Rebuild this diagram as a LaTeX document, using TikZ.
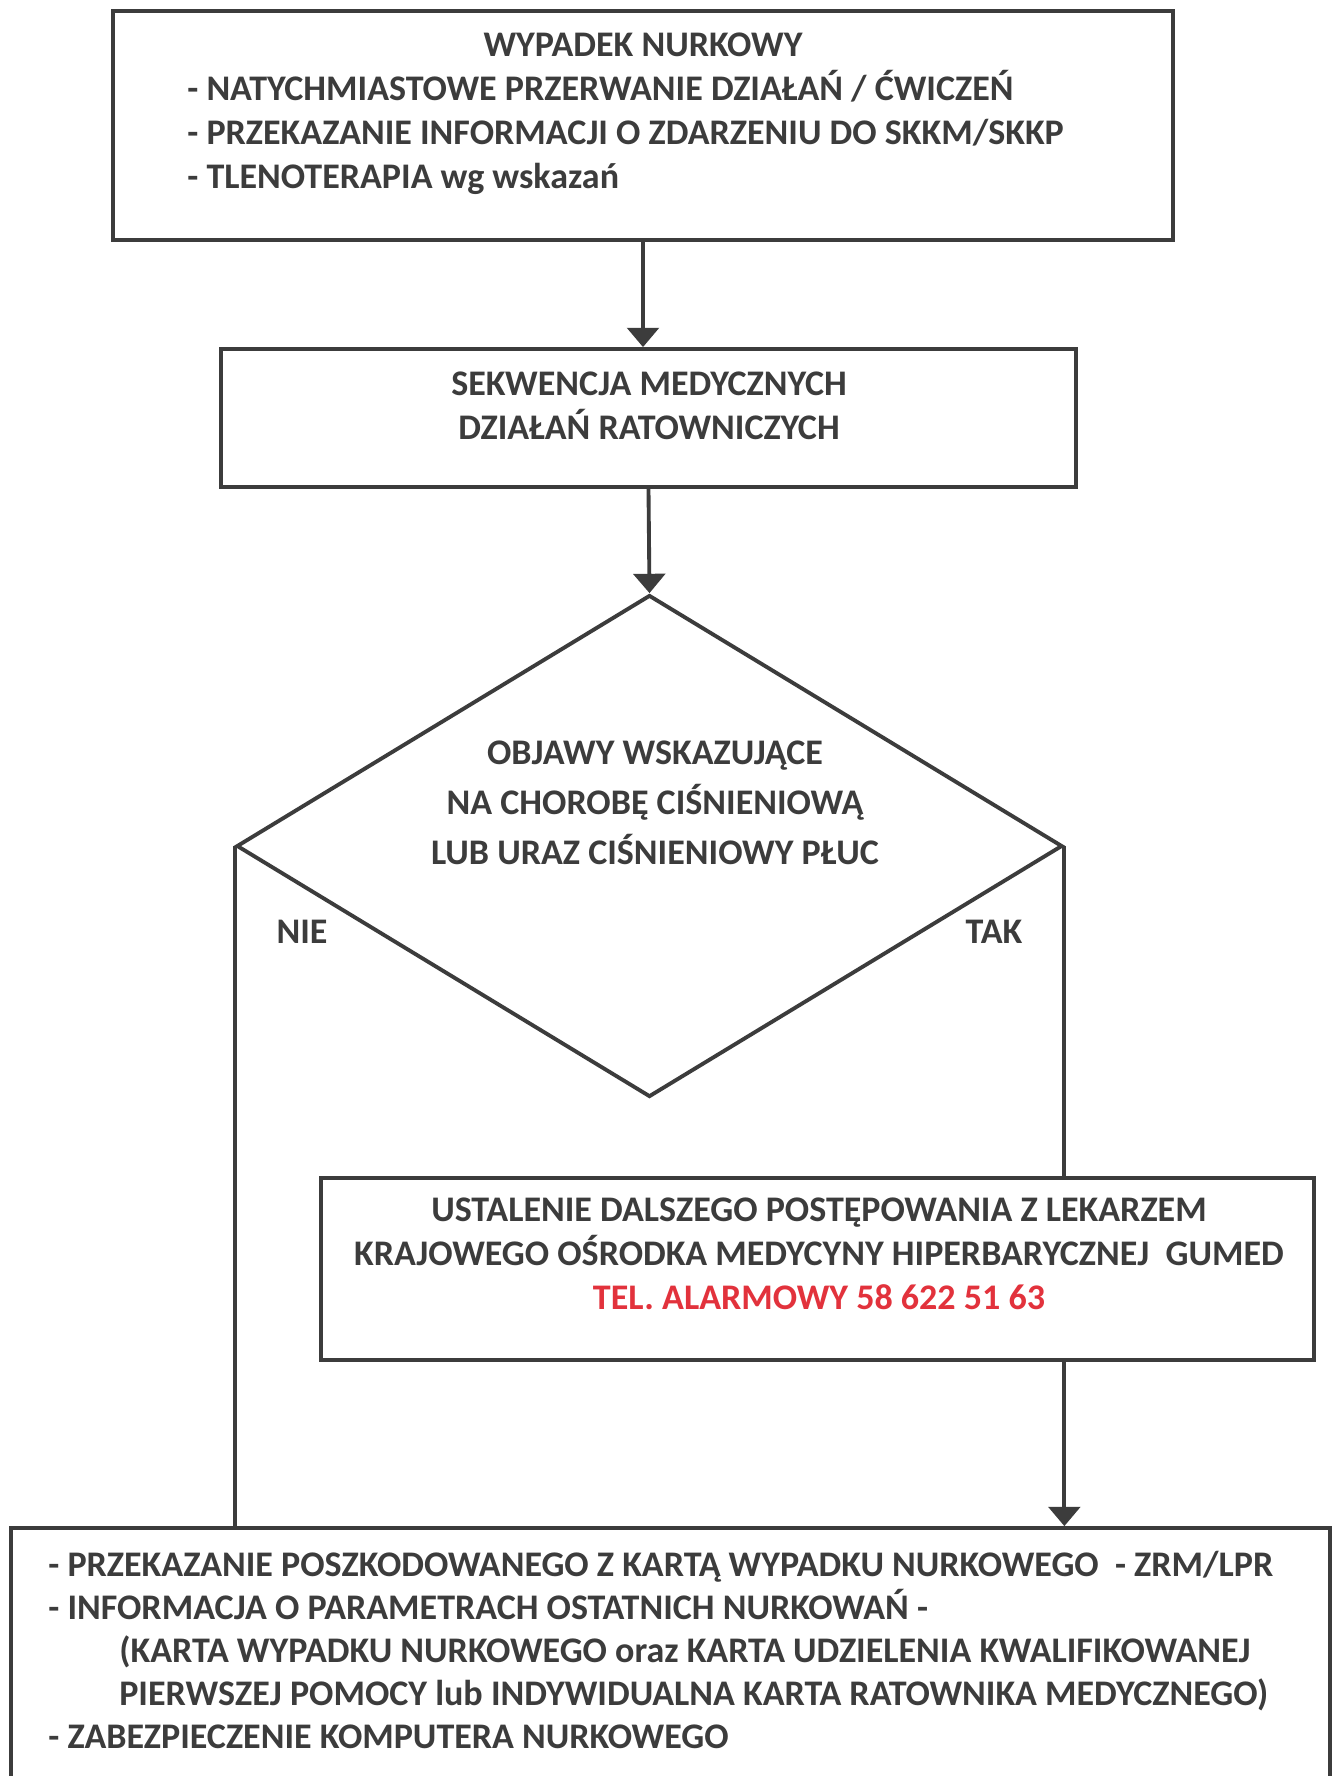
\documentclass[tikz,border=0pt]{standalone}
\usepackage{fontspec}
\setmainfont{Carlito}
\usetikzlibrary{shapes.geometric,arrows.meta}
\definecolor{inkgray}{HTML}{3C3C3C}
\definecolor{alarmred}{HTML}{E2323C}
\tikzset{box/.style={rectangle,draw=inkgray,line width=2.2pt,inner sep=0pt},
  txt/.style={text=inkgray,font=\bfseries\fontsize{20.5}{25}\selectfont,inner sep=0pt},
  link/.style={draw=inkgray,line width=2.2pt},
  flow/.style={link,-{Triangle[width=18pt,length=11pt]}}}

\begin{document}
\begin{tikzpicture}[x=0.02cm,y=-0.02cm]
        \useasboundingbox (0,0) rectangle (1338,1776);
        \fill[white] (0,0) rectangle (1338,1776);

        % boxes
        \node[box,minimum width=21.2cm,minimum height=4.58cm] (wypadek) at (643,125.5) {};
        \node[box,minimum width=17.1cm,minimum height=2.76cm] (sekwencja) at (648.5,418) {};
        \node[box,diamond,minimum width=16.52cm,minimum height=10.04cm] (decyzja) at (649.5,846) {};
        \node[box,minimum width=19.86cm,minimum height=3.64cm] (gumed) at (817.5,1269) {};
        \node[box,minimum width=26.38cm,minimum height=6cm] (koniec) at (670.5,1678) {};

        % texts
        \node[txt] (tytul) at (643,45) {WYPADEK NURKOWY};
        \node[txt,anchor=west,align=left] (zalecenia) at (187,132) {- NATYCHMIASTOWE PRZERWANIE DZIAŁAŃ / ĆWICZEŃ\\
            - PRZEKAZANIE INFORMACJI O ZDARZENIU DO SKKM/SKKP\\
            - TLENOTERAPIA wg wskazań};
        \node[txt,align=center] (sekwtxt) at (649,406) {SEKWENCJA MEDYCZNYCH\\DZIAŁAŃ RATOWNICZYCH};
        \node[txt,align=center,font=\bfseries\fontsize{20.5}{28.5}\selectfont] (objawy) at (655,803) {OBJAWY WSKAZUJĄCE\\
            NA CHOROBĘ CIŚNIENIOWĄ\\LUB URAZ CIŚNIENIOWY PŁUC};
        \node[txt] (nie) at (302,932) {NIE};
        \node[txt] (tak) at (994,932) {TAK};
        \node[txt,align=center] (gumedtxt) at (819,1254) {USTALENIE DALSZEGO POSTĘPOWANIA Z LEKARZEM\\
            KRAJOWEGO OŚRODKA MEDYCYNY HIPERBARYCZNEJ\ \ GUMED\\
            {\color{alarmred}TEL. ALARMOWY 58 622 51 63}};
        \node[txt,anchor=west,align=left,font=\bfseries\fontsize{20.5}{24.6}\selectfont] (przekazanie) at (48,1650) {- PRZEKAZANIE POSZKODOWANEGO Z KARTĄ WYPADKU NURKOWEGO\ \ - ZRM/LPR\\
            - INFORMACJA O PARAMETRACH OSTATNICH NURKOWAŃ -\\
            \hspace*{1.42cm}(KARTA WYPADKU NURKOWEGO oraz KARTA UDZIELENIA KWALIFIKOWANEJ\\
            \hspace*{1.42cm}PIERWSZEJ POMOCY lub INDYWIDUALNA KARTA RATOWNIKA MEDYCZNEGO)\\
            - ZABEZPIECZENIE KOMPUTERA NURKOWEGO};

        % connectors
        \draw[flow] (wypadek.south) -- (wypadek.south |- sekwencja.north);
        \draw[flow] (sekwencja.south) -- (decyzja.north);
        \draw[link] (decyzja.west) -- (decyzja.west |- koniec.north);
        \draw[link] (decyzja.east) -- (decyzja.east |- gumed.north);
        \draw[flow] (gumed.south -| decyzja.east) -- (koniec.north -| decyzja.east);
\end{tikzpicture}
\end{document}
